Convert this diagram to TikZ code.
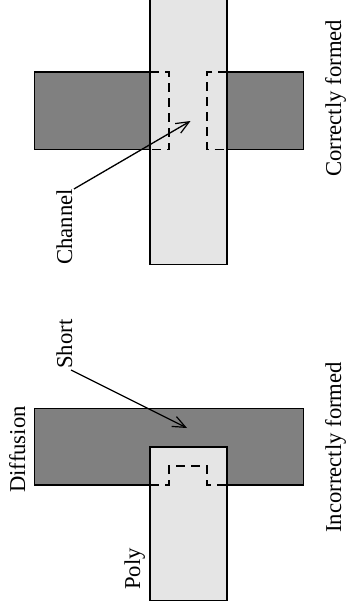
\documentclass[tikz,border=0pt]{standalone}
\usepackage{fontspec}
\setmainfont{Liberation Serif}
\usetikzlibrary{arrows.meta}
\tikzset{
  x=1pt,y=-1pt,
  outline/.style={line width=1.3pt,draw=black,line join=miter},
  diffusion/.style={outline,fill=black!50},
  poly/.style={outline,fill=black!10},
  channeledge/.style={line width=1.3pt,draw=black,dash pattern=on 9pt off 6pt},
  pointer/.style={line width=1.3pt,draw=black,-{Straight Barb[length=13pt,width=11pt,line width=1.2pt]}},
  lbl/.style={rotate=90,inner sep=0pt,anchor=base west,font=\fontsize{22.7pt}{24pt}\selectfont},
}
\begin{document}
\begin{tikzpicture}
\useasboundingbox (0,0) rectangle (347,613);
% Correctly formed device
\draw[diffusion] (34.5,72) rectangle (303.5,149.5);
\fill[black!10] (150,0) rectangle (227,264.5);
\draw[outline] (150,0) -- (150,264.5) -- (227,264.5) -- (227,0);
\draw[channeledge] (150,72) -- (169,72) -- (169,149.5) -- (150,149.5);
\draw[channeledge] (227,72) -- (207,72) -- (207,149.5) -- (227,149.5);
% Incorrectly formed device
\draw[diffusion] (34.5,408.5) rectangle (303.5,485);
\draw[poly] (150,447) rectangle (227,600.5);
\draw[channeledge] (150,485) -- (169,485) -- (169,466) -- (207,466) -- (207,485) -- (227,485);
% Labels
\node[lbl] (channel) at (72,265) {Channel};
\node[lbl] (short) at (72,369) {Short};
\node[lbl] (diff) at (25,493) {Diffusion};
\node[lbl] (polylabel) at (140,590) {Poly};
\node[lbl] (correct) at (341,177) {Correctly formed};
\node[lbl] (incorrect) at (341,533) {Incorrectly formed};
% Pointers
\coordinate (channeltip) at (190.5,121);
\coordinate (shorttip) at (187,428);
\draw[pointer] (channel.base east) ++(2,0) -- (channeltip);
\draw[pointer] (short.base west) ++(-1,1) -- (shorttip);
\end{tikzpicture}
\end{document}
